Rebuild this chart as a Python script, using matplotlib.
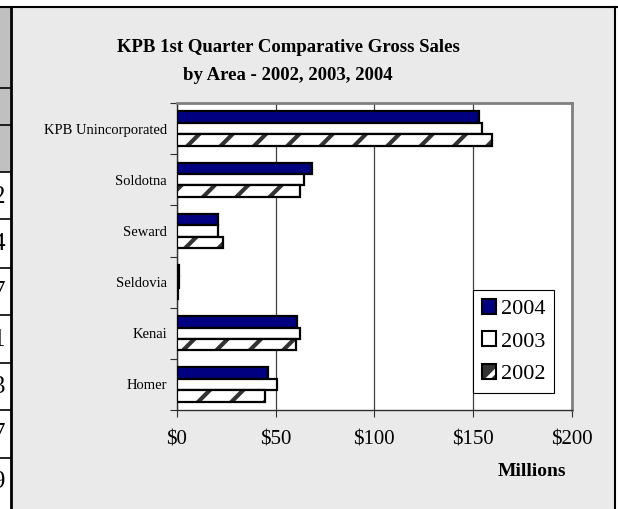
import matplotlib
matplotlib.use("Agg")
import matplotlib.pyplot as plt
from matplotlib.patches import Rectangle, Patch
from matplotlib.lines import Line2D

plt.rcParams['font.family'] = ['Liberation Serif', 'DejaVu Serif']

# data (millions of dollars)
areas = ['KPB Unincorporated', 'Soldotna', 'Seward', 'Seldovia', 'Kenai', 'Homer']
sales_2004 = [153.1, 68.7, 20.7, 1.4, 61.0, 46.1]
sales_2003 = [154.3, 64.3, 21.0, 1.0, 62.3, 50.8]
sales_2002 = [159.6, 62.5, 23.3, 0.8, 60.6, 44.6]
x_ticks = [0, 50, 100, 150, 200]
x_tick_labels = ['$0', '$50', '$100', '$150', '$200']
strip_digits = ['2', '4', '7', '1', '3', '7', '9']

W, H = 618, 509
fig = plt.figure(figsize=(W / 100, H / 100), dpi=100)
fig.patch.set_facecolor('white')


def fx(px):
    return px / W


def fy(py):
    return 1 - py / H


# chart panel background
fig.patches.append(Rectangle((fx(11), 0), fx(614) - fx(11), fy(7), transform=fig.transFigure,
                             facecolor='#eaeaea', edgecolor='none', zorder=-2))
# left strip (piece of a table)
fig.patches.append(Rectangle((0, fy(172)), fx(10), fy(7) - fy(172), transform=fig.transFigure,
                             facecolor='#c0c0c0', edgecolor='none', zorder=-2))
for yy in [88, 125, 172, 219, 268, 315, 363, 410, 458]:
    fig.add_artist(Line2D([0, fx(10)], [fy(yy), fy(yy)], transform=fig.transFigure,
                          color='black', lw=1.2))
for i, d in enumerate(strip_digits):
    fig.text(fx(5), fy(197 + i * 47.5), d, ha='right', va='center', fontsize=18)
# panel borders
fig.add_artist(Line2D([0, 1], [fy(7), fy(7)], transform=fig.transFigure, color='black', lw=1.5))
fig.add_artist(Line2D([fx(10.5), fx(10.5)], [0, fy(7)], transform=fig.transFigure, color='black', lw=2))
fig.add_artist(Line2D([fx(614.5), fx(614.5)], [0, fy(7)], transform=fig.transFigure, color='black', lw=1.5))

# plot area
ax = fig.add_axes([fx(176.7), fy(410), fx(572) - fx(176.7), fy(103) - fy(410)])
ax.set_facecolor('white')

pos = list(range(len(areas)))
h = 0.223
plt.rcParams['hatch.linewidth'] = 3.0
ax.barh([p - h for p in pos], sales_2004, height=h, color='#000080', edgecolor='black', lw=1.6, zorder=3)
ax.barh(pos, sales_2003, height=h, color='white', edgecolor='black', lw=1.6, zorder=3)
ax.barh([p + h for p in pos], sales_2002, height=h, color='white', edgecolor='#333333',
        hatch='/', lw=0, zorder=3)
ax.barh([p + h for p in pos], sales_2002, height=h, color='none', edgecolor='black', lw=1.6, zorder=4)

ax.set_xlim(0, 200)
ax.set_ylim(len(areas) - 0.5, -0.5)
ax.set_xticks(x_ticks)
ax.set_xticklabels(x_tick_labels, fontsize=15)
ax.set_yticks([p - 0.5 for p in pos] + [len(areas) - 0.5])
ax.set_yticklabels([])
ax.set_yticks(pos, minor=True)
ax.set_yticklabels(areas, minor=True, fontsize=10.5)
ax.tick_params(axis='y', which='minor', length=0, pad=7)
ax.tick_params(axis='y', which='major', length=5, direction='out', color='#303030')
ax.tick_params(axis='x', length=5, direction='out', pad=10, color='#303030')
ax.xaxis.grid(True, color='#404040', lw=0.9, zorder=1)
ax.set_axisbelow(True)
for side in ['top', 'right']:
    ax.spines[side].set_color('#808080')
    ax.spines[side].set_linewidth(2)
for side in ['left', 'bottom']:
    ax.spines[side].set_color('#303030')
    ax.spines[side].set_linewidth(1)

# legend
h2002 = (Patch(facecolor='#333333', edgecolor='white', hatch='/', lw=0),
         Patch(facecolor='none', edgecolor='black', lw=1.5))
handles = [Patch(facecolor='#000080', edgecolor='black', lw=1.5),
           Patch(facecolor='white', edgecolor='black', lw=1.5),
           h2002]
leg = fig.legend(handles, ['2004', '2003', '2002'], loc='upper left',
                 bbox_to_anchor=(fx(473), fy(290)), fontsize=16, frameon=True,
                 fancybox=False, shadow=False, handlelength=0.65, handleheight=0.65,
                 handletextpad=0.2, labelspacing=0.55, borderpad=0.4, borderaxespad=0)
leg.get_frame().set_edgecolor('black')
leg.get_frame().set_linewidth(0.8)
leg.get_frame().set_alpha(1)

fig.text(fx(288), fy(48), 'KPB 1st Quarter Comparative Gross Sales', ha='center', va='center',
         fontsize=13.5, fontweight='bold')
fig.text(fx(288), fy(75), 'by Area - 2002, 2003, 2004', ha='center', va='center',
         fontsize=13.5, fontweight='bold')
fig.text(fx(532), fy(472), 'Millions', ha='center', va='center', fontsize=14, fontweight='bold')

fig.savefig('out.png', dpi=100)
